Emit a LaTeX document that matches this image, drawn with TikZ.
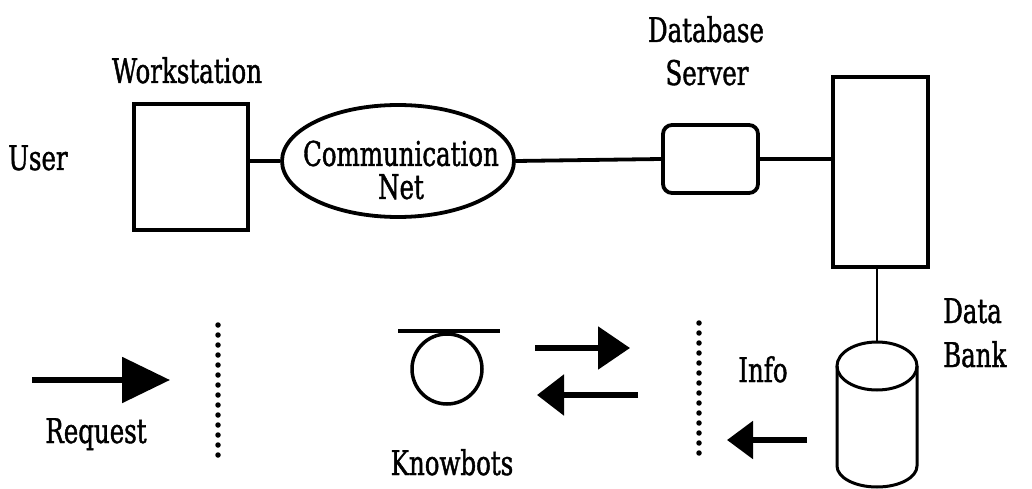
\documentclass[tikz,border=0pt]{standalone}
\usepackage{fontspec}
\setmainfont{DejaVu Serif}[FakeStretch=0.72, FakeBold=1.2]
\usetikzlibrary{shapes.geometric,arrows.meta}
\begin{document}
\begin{tikzpicture}[x=1pt,y=-1pt,
  lbl/.style={font=\fontsize{34}{33}\selectfont, inner sep=0pt},
  boxed/.style={draw, line width=3.8pt, inner sep=0pt},
  wire/.style={line width=3.8pt},
  thinwire/.style={line width=2.5pt},
  dotline/.style={line width=5.5pt, line cap=round, dash pattern=on 0pt off 10pt},
  fatarrow/.style n args={2}{line width=5.5pt, -{Triangle[length=#1pt,width=#2pt]}}
]
\fill[white] (0,0) rectangle (1032,489);
\useasboundingbox (0,0) rectangle (1032,489);

% top row: workstation, network, database server, host
\node[boxed, minimum width=114pt, minimum height=126pt] (ws) at (191,167) {};
\node[boxed, ellipse, minimum width=232pt, minimum height=112pt] (net) at (398,161) {};
\node[lbl, align=center] (netlbl) at (401,170) {Communication\\Net};
\node[boxed, rounded corners=9pt, minimum width=95pt, minimum height=68pt] (dbs) at (710.5,159) {};
\node[boxed, minimum width=95pt, minimum height=190pt] (srv) at (880.5,172) {};

\node[lbl, anchor=base] (wslbl) at (187,83) {Workstation};
\node[lbl, anchor=base] (user) at (38,170) {User};
\node[lbl, anchor=base] (dblbl) at (706,42) {Database};
\node[lbl, anchor=base] (svlbl) at (707,85) {Server};

\draw[wire] (ws.east |- net.west) -- (net.west);
\draw[wire] (net.east) -- (dbs.west);
\draw[wire] (dbs.east) -- (dbs.east -| srv.west);

% data bank cylinder
\coordinate (dbtop) at (877,342);
\draw[thinwire] (dbtop |- srv.south) -- (dbtop);
\draw[line width=3pt] (877,366) ellipse [x radius=40, y radius=24];
\draw[line width=3pt] (837,366) -- (837,466)
  arc[start angle=180, end angle=0, x radius=40, y radius=21] -- (917,366);
\node[lbl, anchor=base west] (datalbl) at (943,323) {Data};
\node[lbl, anchor=base west] (banklbl) at (943,367) {Bank};

% bottom row: request, knowbots, info
\draw[fatarrow={48}{45}] (32,380) -- (170,380);
\node[lbl, anchor=base] (req) at (96,443) {Request};
\draw[dotline] (218,325) -- (218,463);

\draw[line width=4.5pt] (398,331) -- (500,331);
\node[circle, draw, line width=3.5pt, minimum size=70pt, inner sep=0pt] (bot) at (447,369) {};
\node[lbl, anchor=base] (kb) at (452,475) {Knowbots};

\draw[fatarrow={32}{42}] (535,348) -- (630,348);
\draw[fatarrow={27}{40}] (638,395) -- (537,395);

\draw[dotline] (699,323) -- (699,460);
\node[lbl, anchor=base] (info) at (763,382) {Info};
\draw[fatarrow={26}{37}] (807,440) -- (727,440);
\end{tikzpicture}
\end{document}
